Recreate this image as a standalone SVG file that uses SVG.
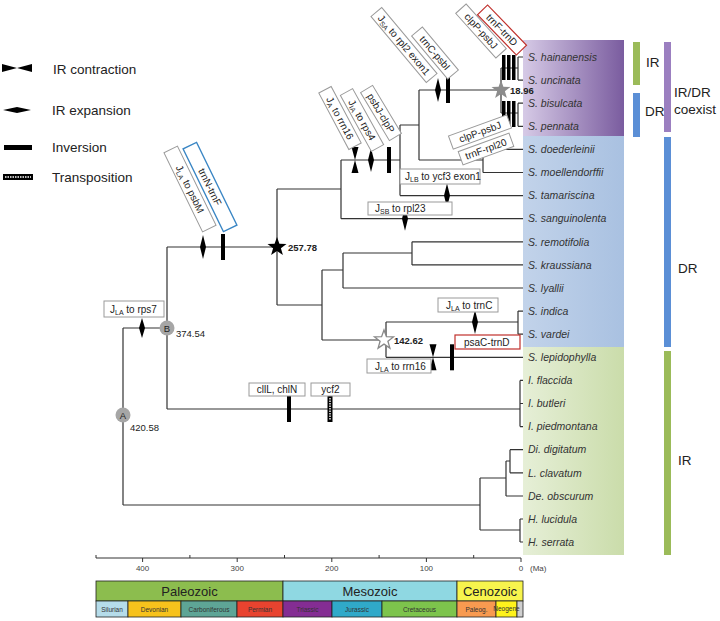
<svg xmlns="http://www.w3.org/2000/svg" width="720" height="621" viewBox="0 0 720 621">
<style>
.ln{fill:none;stroke:#333;stroke-width:1.2}
.bx{fill:#fff;stroke:#9a9a9a;stroke-width:1}
.bxr{fill:#fff;stroke:#c0302c;stroke-width:1.2}
.bxb{fill:#fff;stroke:#3a86c4;stroke-width:1.4}
.lb{font-family:"Liberation Sans",Arial,sans-serif;font-size:10px;fill:#222}
.tx{font-family:"Liberation Sans",Arial,sans-serif;font-size:10.5px;font-style:italic;fill:#333}
.lg{font-family:"Liberation Sans",Arial,sans-serif;font-size:13.5px;fill:#222}
.num{font-family:"Liberation Sans",Arial,sans-serif;font-size:9.5px;fill:#222}
.nb{font-family:"Liberation Sans",Arial,sans-serif;font-size:9.5px;font-weight:bold;fill:#222}
.ax{font-family:"Liberation Sans",Arial,sans-serif;font-size:8px;fill:#444}
.era{font-family:"Liberation Sans",Arial,sans-serif;font-size:13px;fill:#222;text-anchor:middle}
.per{font-family:"Liberation Sans",Arial,sans-serif;font-size:6.5px;fill:#333;text-anchor:middle}
</style>
<defs>
<linearGradient id="gp" x1="0" y1="0" x2="1" y2="0"><stop offset="0" stop-color="#d6cae6"/><stop offset="1" stop-color="#7a5c9f"/></linearGradient>
<linearGradient id="gb" x1="0" y1="0" x2="1" y2="0"><stop offset="0" stop-color="#c2d3ea"/><stop offset="1" stop-color="#a9c1e1"/></linearGradient>
<linearGradient id="gg" x1="0" y1="0" x2="1" y2="0"><stop offset="0" stop-color="#e6efd7"/><stop offset="1" stop-color="#cadcaa"/></linearGradient>
<polygon id="exp" points="0,-12 3,0 0,12 -3,0" fill="#000"/>
<path id="con" d="M-3.5,-13 L3.5,-13 L0,0 Z M-3.5,13 L3.5,13 L0,0 Z" fill="#000"/>
<rect id="inv" x="-2" y="-13" width="4" height="26" fill="#000"/>
<polygon id="star" points="0,-10 2.4,-3.3 9.5,-3.1 3.9,1.3 5.9,8.1 0,4.1 -5.9,8.1 -3.9,1.3 -9.5,-3.1 -2.4,-3.3"/>
</defs>

<g id="bands">
<rect x="523" y="40" width="101" height="96" fill="url(#gp)"/>
<rect x="523" y="136" width="101" height="211" fill="url(#gb)"/>
<rect x="523" y="347" width="101" height="208" fill="url(#gg)"/>
</g>

<g id="legend">
<path d="M2,64 L17,68 L2,72 Z M32,64 L17,68 L32,72 Z" fill="#000"/>
<text class="lg" x="53" y="74">IR contraction</text>
<polygon points="3,110 17,107 31,110 17,113" fill="#000"/>
<text class="lg" x="52" y="115">IR expansion</text>
<rect x="4" y="145" width="28" height="5" fill="#000"/>
<text class="lg" x="52" y="152">Inversion</text>
<rect x="3" y="174" width="30" height="6" fill="#000"/>
<line x1="5" y1="177" x2="31" y2="177" stroke="#fff" stroke-width="1.4" stroke-dasharray="1.5,1"/>
<text class="lg" x="52" y="182">Transposition</text>
</g>

<g id="connectors" class="ln">
<path d="M123,328 V505 M123,328 H167 M123,505 H480"/>
<path d="M480,478 V530 M480,478 H506 M506,461 V496 M506,496 H523 M506,461 H510 M510,449.7 V472.8 M510,449.7 H523 M510,472.8 H523 M480,530 H520 M520,519 V542 M520,519 H523 M520,542 H523"/>
<path d="M167,247 V409 M167,409 H520 M520,380.4 V426.6 M520,380.4 H523 M520,403.5 H523 M520,426.6 H523"/>
<path d="M167,247 H277 M277,189 V305 M277,305 H322"/>
<path d="M277,189 H341 M341,160 V218.7 M341,218.7 H523 M341,160 H400 M400,125 V195.6 M400,195.6 H523 M400,125 H419 M419,90 V160 M419,160 H483 M483,149.4 V172.5 M483,149.4 H523 M483,172.5 H523 M419,90 H501"/>
<path d="M501,68 V113 M501,68 H518 M518,57 V80.1 M518,57 H523 M518,80.1 H523 M501,113 H518 M518,103.2 V126.3 M518,103.2 H523 M518,126.3 H523"/>
<path d="M322,270 V340 M322,270 H343 M343,253 V288 M343,288 H523 M343,253 H412 M412,241.8 V264.9 M412,241.8 H523 M412,264.9 H523"/>
<path d="M322,340 H386 M386,322 V357.3 M386,322 H518 M518,311.1 V334.2 M518,311.1 H523 M518,334.2 H523 M386,357.3 H523"/>
</g>

<g id="events">
<polygon points="142,318 145,328 142,338 139,328" fill="#000"/>
<use href="#exp" x="203" y="247"/>
<use href="#inv" x="223" y="247"/>
<use href="#con" x="355" y="160"/>
<use href="#exp" x="371" y="160"/>
<use href="#inv" x="389" y="160"/>
<use href="#exp" x="438" y="90"/>
<use href="#inv" x="448" y="90"/>
<use href="#exp" x="405" y="218.7"/>
<use href="#exp" x="447" y="195.6"/>
<use href="#exp" x="475" y="322"/>
<use href="#con" x="433" y="357.3"/>
<use href="#inv" x="452" y="357.3"/>
<use href="#inv" x="289" y="409"/>
<rect x="327.5" y="396" width="5" height="26" fill="#000"/>
<line x1="330" y1="398" x2="330" y2="420" stroke="#fff" stroke-width="1.4" stroke-dasharray="1.5,1"/>
<rect x="502" y="55" width="3.5" height="25" fill="#000"/>
<rect x="507" y="55" width="3.5" height="25" fill="#000"/>
<rect x="512" y="55" width="3.5" height="25" fill="#000"/>
<rect x="502" y="101" width="3.5" height="26" fill="#000"/>
<rect x="507" y="101" width="3.5" height="26" fill="#000"/>
<rect x="512" y="101" width="3.5" height="26" fill="#000"/>
</g>

<g id="nodeA">
<circle cx="123" cy="415" r="7.5" fill="#a6a6a6"/>
<text class="num" x="123" y="418.5" text-anchor="middle" fill="#333">A</text>
<text class="num" x="130" y="431">420.58</text>
</g>
<g id="nodeB">
<circle cx="167" cy="328" r="7.5" fill="#a6a6a6"/>
<text class="num" x="167" y="331.5" text-anchor="middle" fill="#333">B</text>
<text class="num" x="176" y="337">374.54</text>
</g>
<g id="node257">
<use href="#star" x="277" y="247" fill="#000"/>
<text class="nb" x="288" y="251">257.78</text>
</g>
<g id="node142">
<use href="#star" x="384" y="340" fill="#fff" stroke="#888" stroke-width="1.3"/>
<text class="nb" x="394" y="344">142.62</text>
</g>
<g id="node18">
<use href="#star" x="501" y="90" fill="#8c8c8c"/>
<text class="nb" x="510" y="94">18.96</text>
</g>

<g id="lab-rps7"><rect class="bx" x="104" y="301" width="60" height="16"/><text class="lb" x="110" y="313">J<tspan font-size="7" dy="2">LA</tspan><tspan dy="-2"> to rps7</tspan></text></g>
<g id="lab-ycf3"><rect class="bx" x="400" y="169" width="80" height="15"/><text class="lb" x="405" y="180">J<tspan font-size="7" dy="2">LB</tspan><tspan dy="-2"> to ycf3 exon1</tspan></text></g>
<g id="lab-rpl23"><rect class="bx" x="368" y="202" width="84" height="13"/><text class="lb" x="375" y="212">J<tspan font-size="7" dy="2">SB</tspan><tspan dy="-2"> to rpl23</tspan></text></g>
<g id="lab-trnC"><rect class="bx" x="438" y="298" width="60" height="14"/><text class="lb" x="446" y="309">J<tspan font-size="7" dy="2">LA</tspan><tspan dy="-2"> to trnC</tspan></text></g>
<g id="lab-rrn16b"><rect class="bx" x="367" y="359" width="64" height="14"/><text class="lb" x="375" y="370">J<tspan font-size="7" dy="2">LA</tspan><tspan dy="-2"> to rrn16</tspan></text></g>
<g id="lab-psaC"><rect class="bxr" x="455" y="335" width="65" height="14"/><text class="lb" x="464" y="346">psaC-trnD</text></g>
<g id="lab-chl"><rect class="bx" x="249" y="383" width="56" height="13"/><text class="lb" x="277" y="393" text-anchor="middle">cllL, chlN</text></g>
<g id="lab-ycf2"><rect class="bx" x="311" y="383" width="39" height="13"/><text class="lb" x="330.5" y="393" text-anchor="middle">ycf2</text></g>

<g id="lab-psbM" transform="translate(190,189) rotate(64)"><rect class="bx" x="-44" y="-7.5" width="88" height="15"/><text class="lb" x="0" y="3.5" text-anchor="middle">J<tspan font-size="7" dy="2">LA</tspan><tspan dy="-2"> to psbM</tspan></text></g>
<g id="lab-trnN" transform="translate(210,187) rotate(64)"><rect class="bxb" x="-46" y="-7.5" width="92" height="15"/><text class="lb" x="0" y="3.5" text-anchor="middle">trnN-trnF</text></g>
<g id="lab-rrn16" transform="translate(340,118) rotate(62)"><rect class="bx" x="-32" y="-7" width="64" height="14"/><text class="lb" x="0" y="3.5" text-anchor="middle">J<tspan font-size="7" dy="2">A</tspan><tspan dy="-2"> to rrn16</tspan></text></g>
<g id="lab-rps4" transform="translate(362,120) rotate(61)"><rect class="bx" x="-32" y="-7" width="64" height="14"/><text class="lb" x="0" y="3.5" text-anchor="middle">J<tspan font-size="7" dy="2">IA</tspan><tspan dy="-2"> to rps4</tspan></text></g>
<g id="lab-psbJ" transform="translate(381,113) rotate(59)"><rect class="bx" x="-28" y="-7" width="56" height="14"/><text class="lb" x="0" y="3.5" text-anchor="middle">psbJ-clpP</text></g>
<g id="lab-rpl2" transform="translate(404,45) rotate(50)"><rect class="bx" x="-43" y="-7" width="86" height="14"/><text class="lb" x="0" y="3.5" text-anchor="middle">J<tspan font-size="7" dy="2">SA</tspan><tspan dy="-2"> to rpl2 exon1</tspan></text></g>
<g id="lab-trnC2" transform="translate(435,53) rotate(50)"><rect class="bx" x="-28" y="-7" width="56" height="14"/><text class="lb" x="0" y="3.5" text-anchor="middle">trnC-psbI</text></g>
<g id="lab-clpP1" transform="translate(481,31) rotate(48)"><rect class="bx" x="-30" y="-7" width="60" height="14"/><text class="lb" x="0" y="3.5" text-anchor="middle">clpP-psbJ</text></g>
<g id="lab-trnFD" transform="translate(502,30) rotate(46)"><rect class="bxr" x="-28" y="-7" width="56" height="14"/><text class="lb" x="0" y="3.5" text-anchor="middle">trnF-trnD</text></g>
<g id="lab-clpP2" transform="translate(480,132) rotate(-20)"><rect class="bx" x="-31" y="-7" width="62" height="14"/><text class="lb" x="0" y="3.5" text-anchor="middle">clpP-psbJ</text></g>
<g id="lab-rpl20" transform="translate(486,149) rotate(-20)"><rect class="bx" x="-27" y="-7" width="54" height="14"/><text class="lb" x="0" y="3.5" text-anchor="middle">trnF-rpl20</text></g>

<g id="taxa">
<text class="tx" x="528" y="60.7">S. hainanensis</text>
<text class="tx" x="528" y="83.8">S. uncinata</text>
<text class="tx" x="528" y="106.9">S. bisulcata</text>
<text class="tx" x="528" y="130">S. pennata</text>
<text class="tx" x="528" y="153.1">S. doederleinii</text>
<text class="tx" x="528" y="176.2">S. moellendorffii</text>
<text class="tx" x="528" y="199.3">S. tamariscina</text>
<text class="tx" x="528" y="222.4">S. sanguinolenta</text>
<text class="tx" x="528" y="245.5">S. remotifolia</text>
<text class="tx" x="528" y="268.6">S. kraussiana</text>
<text class="tx" x="528" y="291.7">S. lyallii</text>
<text class="tx" x="528" y="314.8">S. indica</text>
<text class="tx" x="528" y="337.9">S. vardei</text>
<text class="tx" x="528" y="361">S. lepidophylla</text>
<text class="tx" x="528" y="384.1">I. flaccida</text>
<text class="tx" x="528" y="407.2">I. butleri</text>
<text class="tx" x="528" y="430.3">I. piedmontana</text>
<text class="tx" x="528" y="453.4">Di. digitatum</text>
<text class="tx" x="528" y="476.5">L. clavatum</text>
<text class="tx" x="528" y="499.6">De. obscurum</text>
<text class="tx" x="528" y="522.7">H. lucidula</text>
<text class="tx" x="528" y="545.8">H. serrata</text>
</g>

<g id="groups">
<rect x="633" y="42" width="7" height="43" fill="#9bbb59"/>
<rect x="633" y="93" width="7" height="44" fill="#5b8fd6"/>
<rect x="664" y="42" width="7" height="90" fill="#9b7fc0"/>
<rect x="664" y="137" width="7" height="210" fill="#5b8fd6"/>
<rect x="664" y="351" width="7" height="204" fill="#9bbb59"/>
<text class="lg" x="646" y="67">IR</text>
<text class="lg" x="645" y="116">DR</text>
<text class="lg" x="674" y="97">IR/DR</text>
<text class="lg" x="674" y="114">coexist</text>
<text class="lg" x="678" y="273">DR</text>
<text class="lg" x="678" y="465">IR</text>
</g>

<g id="axis">
<path d="M96,558 H521 M142.6,558 V562 M237.2,558 V562 M331.8,558 V562 M426.4,558 V562 M521,558 V562 M189.9,558 V555 M284.5,558 V555 M379.1,558 V555 M473.7,558 V555 M96,558 V555" stroke="#333" stroke-width="1" fill="none"/>
<text class="ax" x="142.6" y="571" text-anchor="middle">400</text>
<text class="ax" x="237.2" y="571" text-anchor="middle">300</text>
<text class="ax" x="331.8" y="571" text-anchor="middle">200</text>
<text class="ax" x="426.4" y="571" text-anchor="middle">100</text>
<text class="ax" x="521" y="571" text-anchor="middle">0</text>
<text class="ax" x="530" y="571">(Ma)</text>
</g>

<g id="timescale" stroke="#222" stroke-width="0.8">
<rect x="96" y="581" width="187" height="20" fill="#8cbd4e"/>
<rect x="283" y="581" width="174" height="20" fill="#8fd8e2"/>
<rect x="457" y="581" width="66" height="20" fill="#f7f44d"/>
<rect x="96" y="601" width="32" height="16" fill="#b5dcea"/>
<rect x="128" y="601" width="53" height="16" fill="#f7c21c"/>
<rect x="181" y="601" width="56" height="16" fill="#5ea596"/>
<rect x="237" y="601" width="46" height="16" fill="#e8432f"/>
<rect x="283" y="601" width="49" height="16" fill="#842d93"/>
<rect x="332" y="601" width="50" height="16" fill="#30a9c9"/>
<rect x="382" y="601" width="75" height="16" fill="#7dc44c"/>
<rect x="457" y="601" width="39" height="16" fill="#f89a50"/>
<rect x="496" y="601" width="21" height="16" fill="#fff31c"/>
<rect x="517" y="601" width="6" height="16" fill="#cfcfcf"/>
</g>
<g id="timelabels">
<text class="era" x="189.5" y="596">Paleozoic</text>
<text class="era" x="370" y="596">Mesozoic</text>
<text class="era" x="490" y="596">Cenozoic</text>
<text class="per" x="112" y="611.5">Silurian</text>
<text class="per" x="154.5" y="611.5">Devonian</text>
<text class="per" x="209" y="611.5">Carboniferous</text>
<text class="per" x="260" y="611.5" fill="#7a1a10">Permian</text>
<text class="per" x="307.5" y="611.5" fill="#c9a4d2">Triassic</text>
<text class="per" x="357" y="611.5" fill="#124c66">Jurassic</text>
<text class="per" x="419.5" y="611.5">Cretaceous</text>
<text class="per" x="476.5" y="611.5">Paleog.</text>
<text class="per" x="506.5" y="611" font-size="4.5">Neogene</text>
</g>
</svg>
